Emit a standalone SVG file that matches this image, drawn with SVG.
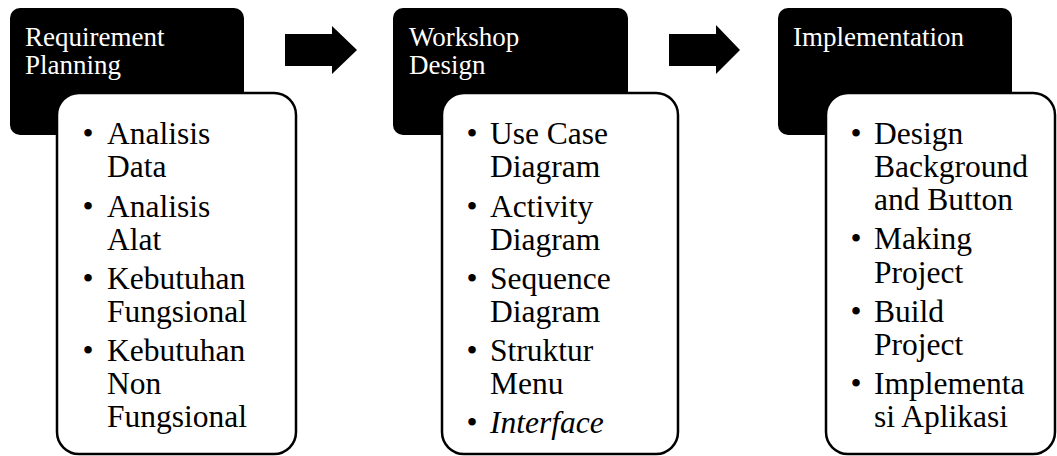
<svg xmlns="http://www.w3.org/2000/svg" width="1057" height="456" viewBox="0 0 1057 456">
<style>
.hdr{fill:#000}
.card{fill:#fff;stroke:#000;stroke-width:2.5}
.t{font-family:"Liberation Serif","Times New Roman",serif;font-size:27px;fill:#fff}
.b{font-family:"Liberation Serif","Times New Roman",serif;font-size:31.5px;fill:#000}
.arr{fill:#000}
</style>
<rect width="1057" height="456" fill="#fff"/>
<g id="node-requirement">
<rect class="hdr" x="10" y="8" width="234" height="127" rx="10"/>
<text class="t" x="25" y="46">Requirement</text>
<text class="t" x="25" y="74">Planning</text>
<rect class="card" x="57" y="93" width="239" height="361" rx="22"/>
<g class="b">
<text x="88" y="144" text-anchor="middle">•</text><text x="107" y="144">Analisis</text>
<text x="107" y="177">Data</text>
<text x="88" y="217" text-anchor="middle">•</text><text x="107" y="217">Analisis</text>
<text x="107" y="250">Alat</text>
<text x="88" y="289" text-anchor="middle">•</text><text x="107" y="289">Kebutuhan</text>
<text x="107" y="322">Fungsional</text>
<text x="88" y="361" text-anchor="middle">•</text><text x="107" y="361">Kebutuhan</text>
<text x="107" y="394">Non</text>
<text x="107" y="427">Fungsional</text>
</g>
</g>
<g id="node-workshop">
<rect class="hdr" x="393" y="8" width="235" height="127" rx="10"/>
<text class="t" x="409" y="46">Workshop</text>
<text class="t" x="409" y="74">Design</text>
<rect class="card" x="442" y="93" width="236" height="361" rx="22"/>
<g class="b">
<text x="472" y="144" text-anchor="middle">•</text><text x="490" y="144">Use Case</text>
<text x="490" y="177">Diagram</text>
<text x="472" y="217" text-anchor="middle">•</text><text x="490" y="217">Activity</text>
<text x="490" y="250">Diagram</text>
<text x="472" y="289" text-anchor="middle">•</text><text x="490" y="289">Sequence</text>
<text x="490" y="322">Diagram</text>
<text x="472" y="361" text-anchor="middle">•</text><text x="490" y="361">Struktur</text>
<text x="490" y="394">Menu</text>
<text x="472" y="433" text-anchor="middle">•</text><text x="490" y="433" font-style="italic">Interface</text>
</g>
</g>
<g id="node-implementation">
<rect class="hdr" x="778" y="8" width="234" height="127" rx="10"/>
<text class="t" x="793" y="46">Implementation</text>
<rect class="card" x="826" y="93" width="229" height="361" rx="22"/>
<g class="b">
<text x="856" y="144" text-anchor="middle">•</text><text x="874" y="144">Design</text>
<text x="874" y="177">Background</text>
<text x="874" y="210">and Button</text>
<text x="856" y="249" text-anchor="middle">•</text><text x="874" y="249">Making</text>
<text x="874" y="283">Project</text>
<text x="856" y="322" text-anchor="middle">•</text><text x="874" y="322">Build</text>
<text x="874" y="355">Project</text>
<text x="856" y="394" text-anchor="middle">•</text><text x="874" y="394">Implementa</text>
<text x="874" y="427">si Aplikasi</text>
</g>
</g>
<g id="connectors">
<polygon class="arr" points="285,34 332,34 332,26 357,50 332,74 332,66 285,66"/>
<polygon class="arr" points="669,34 716,34 716,25 740,50 716,74 716,66 669,66"/>
</g>
</svg>
